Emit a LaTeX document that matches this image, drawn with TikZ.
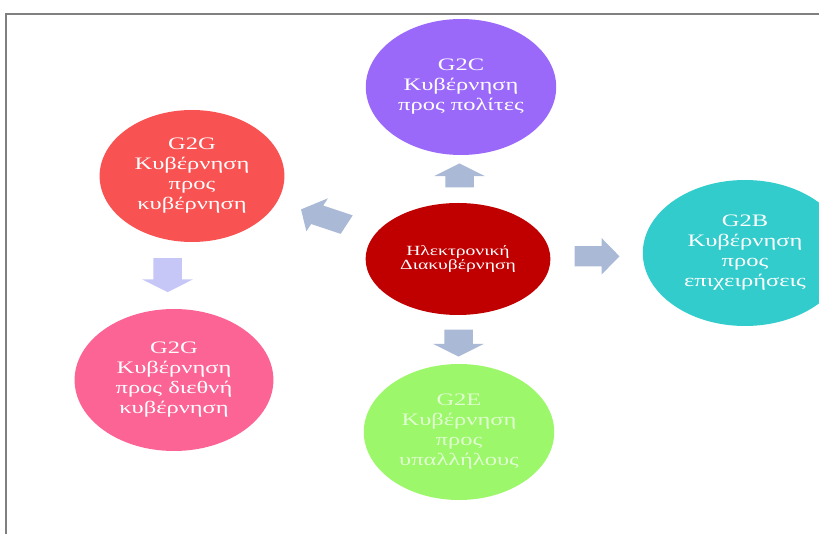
\documentclass[tikz,border=0pt]{standalone}
\usepackage{fontspec}
\setmainfont{Liberation Serif}
\usetikzlibrary{shapes.geometric,shapes.arrows}
\definecolor{purp}{RGB}{155,105,250}
\definecolor{rd}{RGB}{249,82,82}
\definecolor{drd}{RGB}{192,0,0}
\definecolor{teal2}{RGB}{51,204,204}
\definecolor{pnk}{RGB}{252,100,150}
\definecolor{grn}{RGB}{156,247,106}
\definecolor{arr}{RGB}{169,185,214}
\definecolor{lav}{RGB}{198,198,247}
\tikzstyle{frame}=[draw=gray, line width=1.5pt]
\tikzstyle{circ}=[ellipse, transform shape, inner sep=0pt, align=center, text=white, font=\fontsize{17.5}{20}\selectfont]
\tikzstyle{barrow}=[single arrow, transform shape, fill=arr, inner xsep=0pt, inner ysep=10pt, single arrow head extend=8pt, single arrow tip angle=110]

\begin{document}
\begin{tikzpicture}[x=0.7143pt, y=-1pt, xscale=1.4]
\useasboundingbox (0, 0) rectangle (819, 534);
\draw [frame] (819, 14)--(6, 14)--(6, 534);

\draw (461, 87) node [circ, fill=purp, minimum size=136pt] (g2c) {G2C\\Κυβέρνηση\\προς πολίτες};
\draw (192, 176) node [circ, fill=rd, minimum size=132pt] (g2g) {G2G\\Κυβέρνηση\\προς\\κυβέρνηση};
\draw (458, 259) node [circ, fill=drd, minimum width=132pt, minimum height=112pt, font=\fontsize{14}{14.5}\selectfont] (egov) {Ηλεκτρονική\\Διακυβέρνηση};
\draw (745, 253) node [circ, fill=teal2, minimum size=146pt] (g2b) {G2B\\Κυβέρνηση\\προς\\επιχειρήσεις};
\draw (174, 380) node [circ, fill=pnk, minimum size=142pt] (g2gi) {G2G\\Κυβέρνηση\\προς διεθνή\\κυβέρνηση};
\draw (459, 432) node [circ, fill=grn, minimum size=136pt, text=white!70!grn] (g2e) {G2E\\Κυβέρνηση\\προς\\υπαλλήλους};

\path (egov.north)--(g2c.south) node [barrow, midway, rotate=90, minimum height=24pt] (a1) {};
\path (egov.east)--(g2b.west) node [barrow, pos=0.45, minimum height=32pt] (a2) {};
\path (egov.south)--(g2e.north) node [barrow, midway, rotate=-90, minimum height=27pt] (a3) {};
\path (egov)--(g2g) node [barrow, pos=0.479, rotate=155, minimum height=36pt] (a4) {};
\path (g2g.south)--(g2gi.north) node [barrow, midway, xshift=-11pt, yshift=4pt, rotate=-90, fill=lav, minimum height=34pt] (a5) {};

\end{tikzpicture}
\end{document}
